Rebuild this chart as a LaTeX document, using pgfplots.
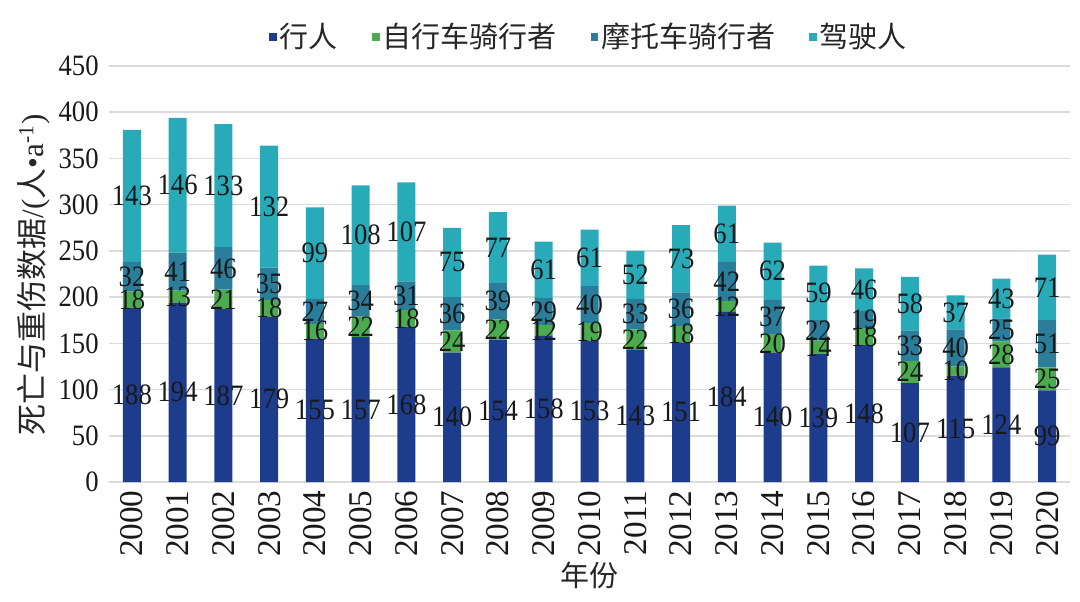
\documentclass[border=0pt]{standalone}
\usepackage{fontspec}
\usepackage{pgfplots}
\usepackage{pgfplotstable}
\pgfplotsset{compat=1.18}
\setmainfont{Liberation Serif}
\newfontfamily\numh[FakeStretch=0.9]{Liberation Serif}
\newfontfamily\cjk{Noto Sans CJK SC}
\definecolor{cP}{RGB}{30,60,140}
\definecolor{cB}{RGB}{74,172,78}
\definecolor{cM}{RGB}{42,125,155}
\definecolor{cD}{RGB}{40,170,185}
\pgfplotstableread{
X P B M D
0 188 18 32 143
1 194 13 41 146
2 187 21 46 133
3 179 18 35 132
4 155 16 27 99
5 157 22 34 108
6 168 18 31 107
7 140 24 36 75
8 154 22 39 77
9 158 12 29 61
10 153 19 40 61
11 143 22 33 52
12 151 18 36 73
13 184 12 42 61
14 140 20 37 62
15 139 14 22 59
16 148 18 19 46
17 107 24 33 58
18 115 10 40 37
19 124 28 25 43
20 99 25 51 71
}\data
\pgfplotsset{
  geom/.style={at={(54.5pt,59.5pt)}, anchor=south west,
    width=480.5pt, height=208pt, scale only axis,
    ybar stacked, bar width=9pt,
    xmin=-0.5, xmax=20.5, ymin=0, ymax=450},
  sq legend/.style={legend image code/.code={\fill[##1] (0pt,-1.9pt) rectangle (3.8pt,1.9pt);}},
  lab/.style={draw=none, fill=none,
    visualization depends on={\thisrow{#1}\as\rawy},
    nodes near coords={\pgfmathprintnumber[assume math mode=true]{\rawy}},
    every node near coord/.append style={font=\numh\fontsize{14.8}{18}\selectfont, text=black!90, anchor=center, inner sep=0pt}}
}
\begin{document}
\begin{tikzpicture}
\path[use as bounding box] (0,0) rectangle (540pt,300.5pt);
\begin{axis}[geom,
  ytick={0,50,...,450}, xtick={0,...,20},
  xticklabels={2000,2001,2002,2003,2004,2005,2006,2007,2008,2009,2010,2011,2012,2013,2014,2015,2016,2017,2018,2019,2020},
  major tick length=0pt,
  axis line style={draw=none},
  ymajorgrids, major grid style={draw=black!14, line width=0.75pt},
  /pgf/number format/assume math mode=true,
  yticklabel style={font=\numh\fontsize{14.8}{18}\selectfont, inner sep=0pt, text=black!90},
  yticklabel shift=5pt,
  xticklabel style={font=\fontsize{16.6}{18}\selectfont, rotate=90, anchor=east, inner sep=0pt, text=black!90},
  xticklabel shift=4pt,
  xlabel={年份},
  xlabel style={font=\cjk\fontsize{14.5}{18}\selectfont, at={(axis description cs:0.5,-0.2236)}, anchor=center, text=black!85},
  ylabel={{\cjk 死亡与重伤数据}/({\cjk 人}•a\textsuperscript{-1})},
  ylabel style={font=\fontsize{15.5}{18}\selectfont, at={(axis description cs:-0.078,0.4976)}, anchor=center, text=black!85},
  legend style={draw=none, fill=none, legend columns=4, at={(0.5,1.0697)}, anchor=center,
    font=\cjk\fontsize{14.5}{18}\selectfont, text=black!85,
    /tikz/every even column/.append style={column sep=15.5pt},
    nodes={inner xsep=1.5pt}},
]
\addplot[fill=cP, draw=none, sq legend] table[x=X,y=P] {\data};
\addplot[fill=cB, draw=none, sq legend] table[x=X,y=B] {\data};
\addplot[fill=cM, draw=none, sq legend] table[x=X,y=M] {\data};
\addplot[fill=cD, draw=none, sq legend] table[x=X,y=D] {\data};
\legend{行人,自行车骑行者,摩托车骑行者,驾驶人}
\end{axis}
\begin{axis}[geom, hide axis]
\addplot[lab=P] table[x=X,y=P] {\data};
\addplot[lab=B] table[x=X,y=B] {\data};
\addplot[lab=M] table[x=X,y=M] {\data};
\addplot[lab=D] table[x=X,y=D] {\data};
\end{axis}
\end{tikzpicture}
\end{document}
